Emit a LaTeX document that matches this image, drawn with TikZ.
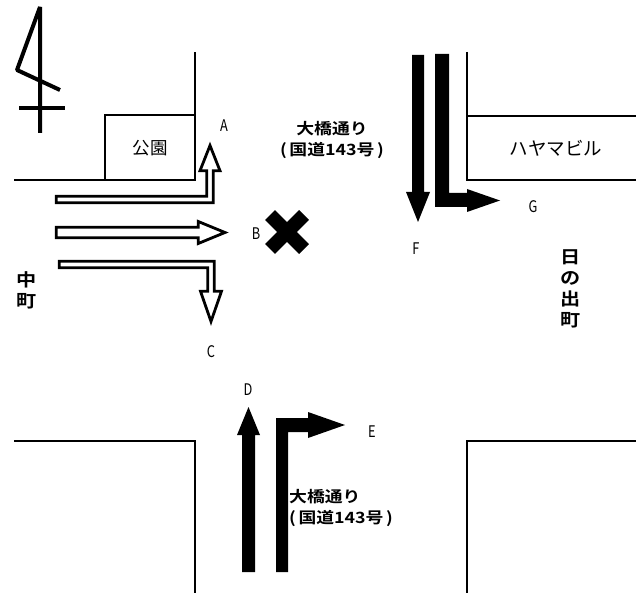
\documentclass[tikz,border=0pt]{standalone}
\usepackage{fontspec}
\setmainfont{Noto Sans CJK JP}
\newfontfamily\jpbold[FakeStretch=1.15]{Noto Sans CJK JP Bold}
\newfontfamily\tagfont[FakeStretch=0.8]{Noto Sans CJK JP}
\tikzset{
  wall/.style={line width=2pt},
  compass/.style={line width=4pt,line join=bevel},
  openarr/.style={draw,line width=2.8pt,fill=white,line join=miter},
  fullarr/.style={fill=black},
  xmark/.style={line width=14pt},
  tag/.style={inner sep=0pt,font=\tagfont\fontsize{16}{16}\selectfont},
  place/.style={inner sep=0pt,font=\fontsize{17.5}{17.5}\selectfont},
  road/.style={inner sep=0pt,align=center,font=\jpbold\fontsize{15.5}{21}\selectfont},
  town/.style={inner sep=0pt,align=center,font=\jpbold\fontsize{17.5}{21}\selectfont}
}
\begin{document}
\begin{tikzpicture}[x=1pt,y=-1pt]
  \useasboundingbox (0,0) rectangle (636,593);
  \draw[compass] (60,90) -- (17,70) -- (40,7) -- (40,133);
  \draw[compass] (19,108) -- (65,108);

  \draw[wall] (14,180) -- (195,180) -- (195,52);
  \draw[wall] (105,180) -- (105,115) -- (195,115);
  \draw[wall] (467,52) -- (467,180) -- (636,180);
  \draw[wall] (467,116) -- (636,116);
  \draw[wall] (14,441) -- (195,441) -- (195,593);
  \draw[wall] (467,593) -- (467,441) -- (636,441);

  \node[place] (park) at (150,148) {公園};
  \node[place,font=\fontsize{18.5}{18.5}\selectfont] (hayama) at (556,148) {ハヤマビル};
  \node[road] (roadN) at (332,140) {大橋通り\\(\,国道143号\,)};
  \node[road,align=left,anchor=west] (roadS) at (289,508) {大橋通り\\(\,国道143号\,)};
  \node[town] (naka) at (27,290) {中\\町};
  \node[town] (hinode) at (571,289) {日\\の\\出\\町};

  \draw[openarr] (56.25,196.25) -- (206.75,196.25) -- (206.75,170.75) -- (200,170.75)
    -- (210,145.5) -- (220,170.75) -- (213.25,170.75) -- (213.25,202.75) -- (56.25,202.75) -- cycle;
  \draw[openarr] (56.25,227.25) -- (198.25,227.25) -- (198.25,221.5) -- (225,232.5)
    -- (198.25,243.5) -- (198.25,237.75) -- (56.25,237.75) -- cycle;
  \draw[openarr] (59.25,261.25) -- (214.25,261.25) -- (214.25,291.25) -- (221.5,291.25)
    -- (211,321.5) -- (200.5,291.25) -- (207.75,291.25) -- (207.75,267.75) -- (59.25,267.75) -- cycle;

  \fill[fullarr] (412,55) -- (424,55) -- (424,192) -- (430,192) -- (418,222) -- (406,192) -- (412,192) -- cycle;
  \fill[fullarr] (435,54) -- (449,54) -- (449,193) -- (467,193) -- (467,189) -- (500,200.5)
    -- (467,212) -- (467,207) -- (435,207) -- cycle;
  \fill[fullarr] (242,572) -- (255,572) -- (255,435) -- (260,435) -- (248.5,407) -- (237,435) -- (242,435) -- cycle;
  \fill[fullarr] (276,572) -- (288,572) -- (288,432) -- (308,432) -- (308,438) -- (345,425)
    -- (308,412) -- (308,418) -- (276,418) -- cycle;

  \node (cross) at (287,232) {};
  \draw[xmark] (cross.center) ++(-17,-17) -- ++(34,34);
  \draw[xmark] (cross.center) ++(17,-17) -- ++(-34,34);

  \node[tag] (a) at (224,126) {A};
  \node[tag] (b) at (256,234) {B};
  \node[tag] (c) at (211,352) {C};
  \node[tag] (d) at (248,390) {D};
  \node[tag] (e) at (372,432) {E};
  \node[tag] (f) at (416,249) {F};
  \node[tag] (g) at (533,207) {G};
\end{tikzpicture}
\end{document}
